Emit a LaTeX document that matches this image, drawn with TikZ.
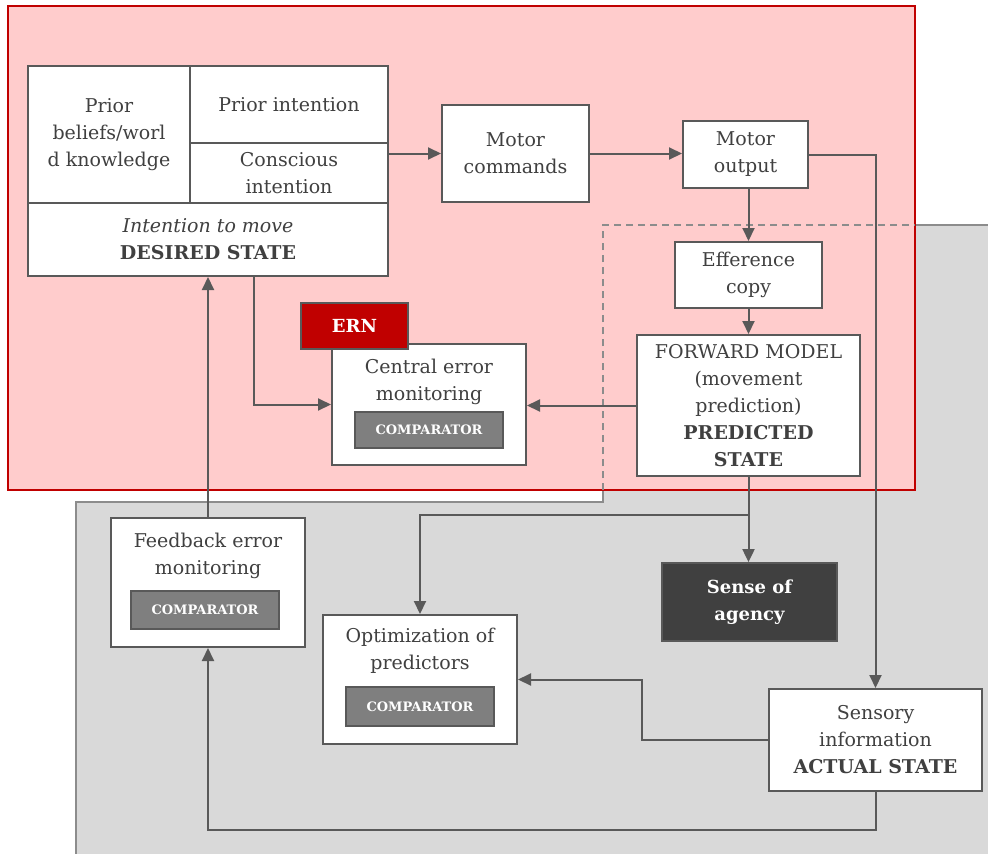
\documentclass[tikz,border=0pt]{standalone}
\usepackage{fontspec}
\setmainfont{DejaVu Serif}
\usetikzlibrary{arrows.meta}
\definecolor{pinkfill}{HTML}{FFCCCC}
\definecolor{redline}{HTML}{C00000}
\definecolor{grayfill}{HTML}{D9D9D9}
\definecolor{grayline}{HTML}{8C8C8C}
\definecolor{boxline}{HTML}{595959}
\definecolor{textc}{HTML}{404040}
\definecolor{compfill}{HTML}{7F7F7F}
\definecolor{darkfill}{HTML}{404040}
\begin{document}
\begin{tikzpicture}[x=1pt,y=-1pt,
  txt/.style={align=center,text=textc,inner sep=0pt,font=\fontsize{19}{27}\selectfont},
  box/.style={txt,draw=boxline,fill=white,line width=2pt},
  comp/.style={draw=boxline,fill=compfill,line width=1.8pt,text=white,inner sep=0pt,
    font=\fontsize{13}{14}\selectfont\bfseries,minimum width=148pt},
  dark/.style={draw=boxline,line width=1.8pt,text=white,inner sep=0pt,align=center,
    font=\fontsize{18}{27}\selectfont\bfseries},
  arr/.style={draw=boxline,line width=2pt,-{Triangle[length=13pt,width=12pt]}},
  link/.style={draw=boxline,line width=2pt}]
\useasboundingbox (0,0) rectangle (988,854);

% background regions
\fill[grayfill,draw=grayline,line width=1.8pt]
  (76,856) -- (76,502) -- (603,502) -- (603,225) -- (990,225) -- (990,856) -- cycle;
\fill[pinkfill,draw=redline,line width=2pt] (8,6) rectangle (915,490);
\draw[grayline,line width=1.8pt,dash pattern=on 7pt off 5pt] (603,490) -- (603,225) -- (915,225);

% intention block
\node[box,minimum width=162pt,minimum height=137pt] (beliefs) at (109,134.5)
  {Prior\\beliefs/worl\\d knowledge};
\node[box,minimum width=198pt,minimum height=77pt] (priorint) at (289,104.5) {Prior intention};
\node[box,minimum width=198pt,minimum height=60pt] (conscious) at (289,173) {Conscious\\intention};
\node[box,minimum width=360pt,minimum height=73pt] (desired) at (208,239.5)
  {\itshape Intention to move\\\bfseries DESIRED STATE};

% motor chain
\node[box,minimum width=147pt,minimum height=97pt] (mc) at (515.5,153.5) {Motor\\commands};
\node[box,minimum width=125pt,minimum height=67pt] (mo) at (745.5,154.5) {Motor\\output};
\node[box,minimum width=147pt,minimum height=66pt] (eff) at (748.5,275) {Efference\\copy};
\node[box,minimum width=223pt,minimum height=141pt] (fwd) at (748.5,405.5)
  {FORWARD MODEL\\(movement\\prediction)\\\bfseries PREDICTED\\\bfseries STATE};

% central error monitoring
\node[box,minimum width=194pt,minimum height=121pt] (central) at (429,404.5) {};
\node[txt] (centraltxt) at (429,381.5) {Central error\\monitoring};
\node[comp,minimum height=36pt] (compc) at (429,430) {COMPARATOR};
\node[dark,fill=redline,minimum width=107pt,minimum height=46pt] (ern) at (354.5,326) {ERN};

% feedback error monitoring
\node[box,minimum width=194pt,minimum height=129pt] (feedback) at (208,582.5) {};
\node[txt] (feedbacktxt) at (208,555.5) {Feedback error\\monitoring};
\node[comp,minimum height=38pt] (compf) at (205,610) {COMPARATOR};

% optimization of predictors
\node[box,minimum width=194pt,minimum height=129pt] (optim) at (420,679.5) {};
\node[txt] (optimtxt) at (420,650.5) {Optimization of\\predictors};
\node[comp,minimum height=39pt] (compo) at (420,706.5) {COMPARATOR};

% outcomes
\node[dark,fill=darkfill,minimum width=175pt,minimum height=78pt] (sense) at (749.5,602)
  {Sense of\\agency};
\node[box,minimum width=213pt,minimum height=102pt] (sensory) at (875.5,740)
  {Sensory\\information\\\bfseries ACTUAL STATE};

% connectors
\coordinate (split) at (748.5,515);
\coordinate (dropdesired) at (254,276);
\coordinate (sensbend) at (642,740);
\coordinate (bottomrun) at (875.5,830);

\draw[arr] (mc.west -| conscious.east) -- (mc.west);
\draw[arr] (mc.east) -- (mc.east -| mo.west);
\draw[arr] (eff.north |- mo.south) -- (eff.north);
\draw[arr] (eff.south) -- (fwd.north);
\draw[arr] (fwd.west) -- (fwd.west -| central.east);
\draw[arr] (dropdesired) |- (central.west);
\draw[arr] (feedback.north) -- (desired.south);
\draw[link] (fwd.south) -- (split);
\draw[arr] (split) -| (optim.north);
\draw[arr] (split) -- (split |- sense.north);
\draw[arr] (mo.east) -| (sensory.north);
\draw[arr] (sensory.west) -- (sensbend) |- (optim.east);
\draw[arr] (sensory.south) -- (bottomrun) -| (feedback.south);
\end{tikzpicture}
\end{document}
